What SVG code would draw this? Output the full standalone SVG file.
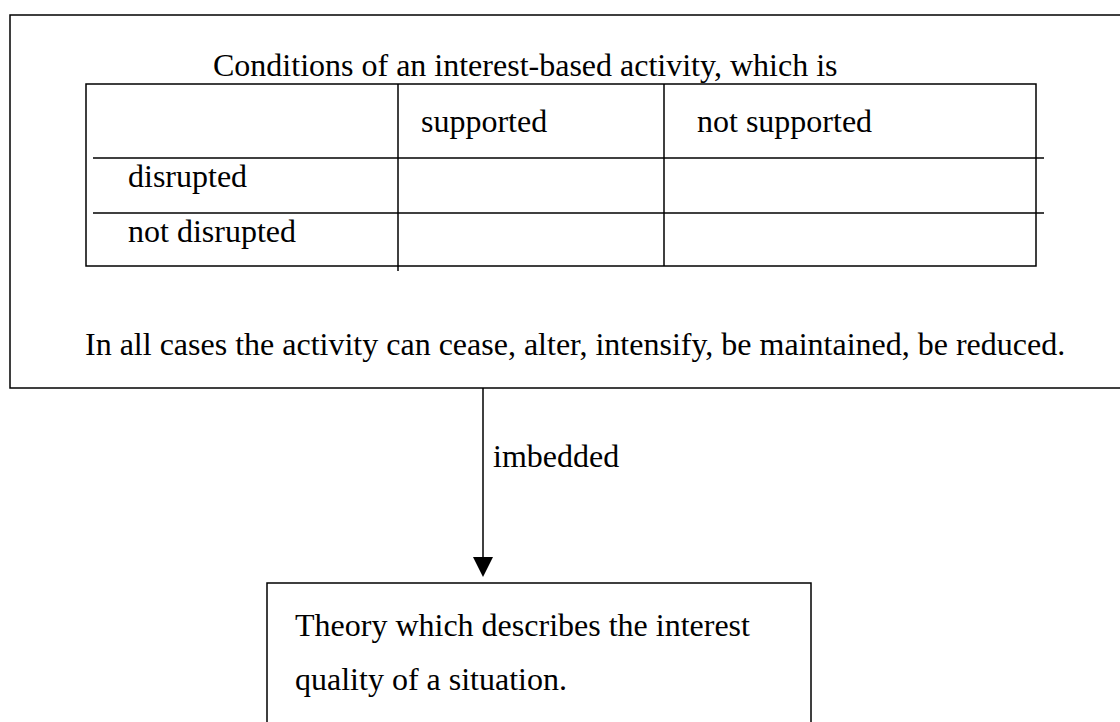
<svg xmlns="http://www.w3.org/2000/svg" width="1120" height="722" viewBox="0 0 1120 722">
<style>
text{font-family:"Liberation Serif","Times New Roman",serif;font-size:32px;fill:#000}
.b{fill:none;stroke:#000;stroke-width:1.5}
.l{stroke:#000;stroke-width:1.5}
</style>
<rect width="1120" height="722" fill="#fff"/>
<g id="conditions">
<rect class="b" x="10" y="15" width="1120" height="373"/>
<text x="213" y="76">Conditions of an interest-based activity, which is</text>
<rect class="b" x="86" y="84" width="950" height="182"/>
<line class="l" x1="398" y1="84" x2="398" y2="271"/>
<line class="l" x1="664" y1="84" x2="664" y2="266"/>
<line class="l" x1="93" y1="158" x2="1044" y2="158"/>
<line class="l" x1="93" y1="213" x2="1044" y2="213"/>
<text x="421" y="132">supported</text>
<text x="697" y="132">not supported</text>
<text x="128" y="187">disrupted</text>
<text x="128" y="242">not disrupted</text>
<text x="85" y="355">In all cases the activity can cease, alter, intensify, be maintained, be reduced.</text>
</g>
<g id="connectors">
<line class="l" x1="483" y1="388" x2="483" y2="558"/>
<polygon points="473,557 493,557 483,577" fill="#000"/>
<text x="493" y="467">imbedded</text>
</g>
<g id="theory">
<rect class="b" x="267" y="583" width="544" height="160"/>
<text x="295" y="636">Theory which describes the interest</text>
<text x="295" y="690">quality of a situation.</text>
</g>
</svg>
